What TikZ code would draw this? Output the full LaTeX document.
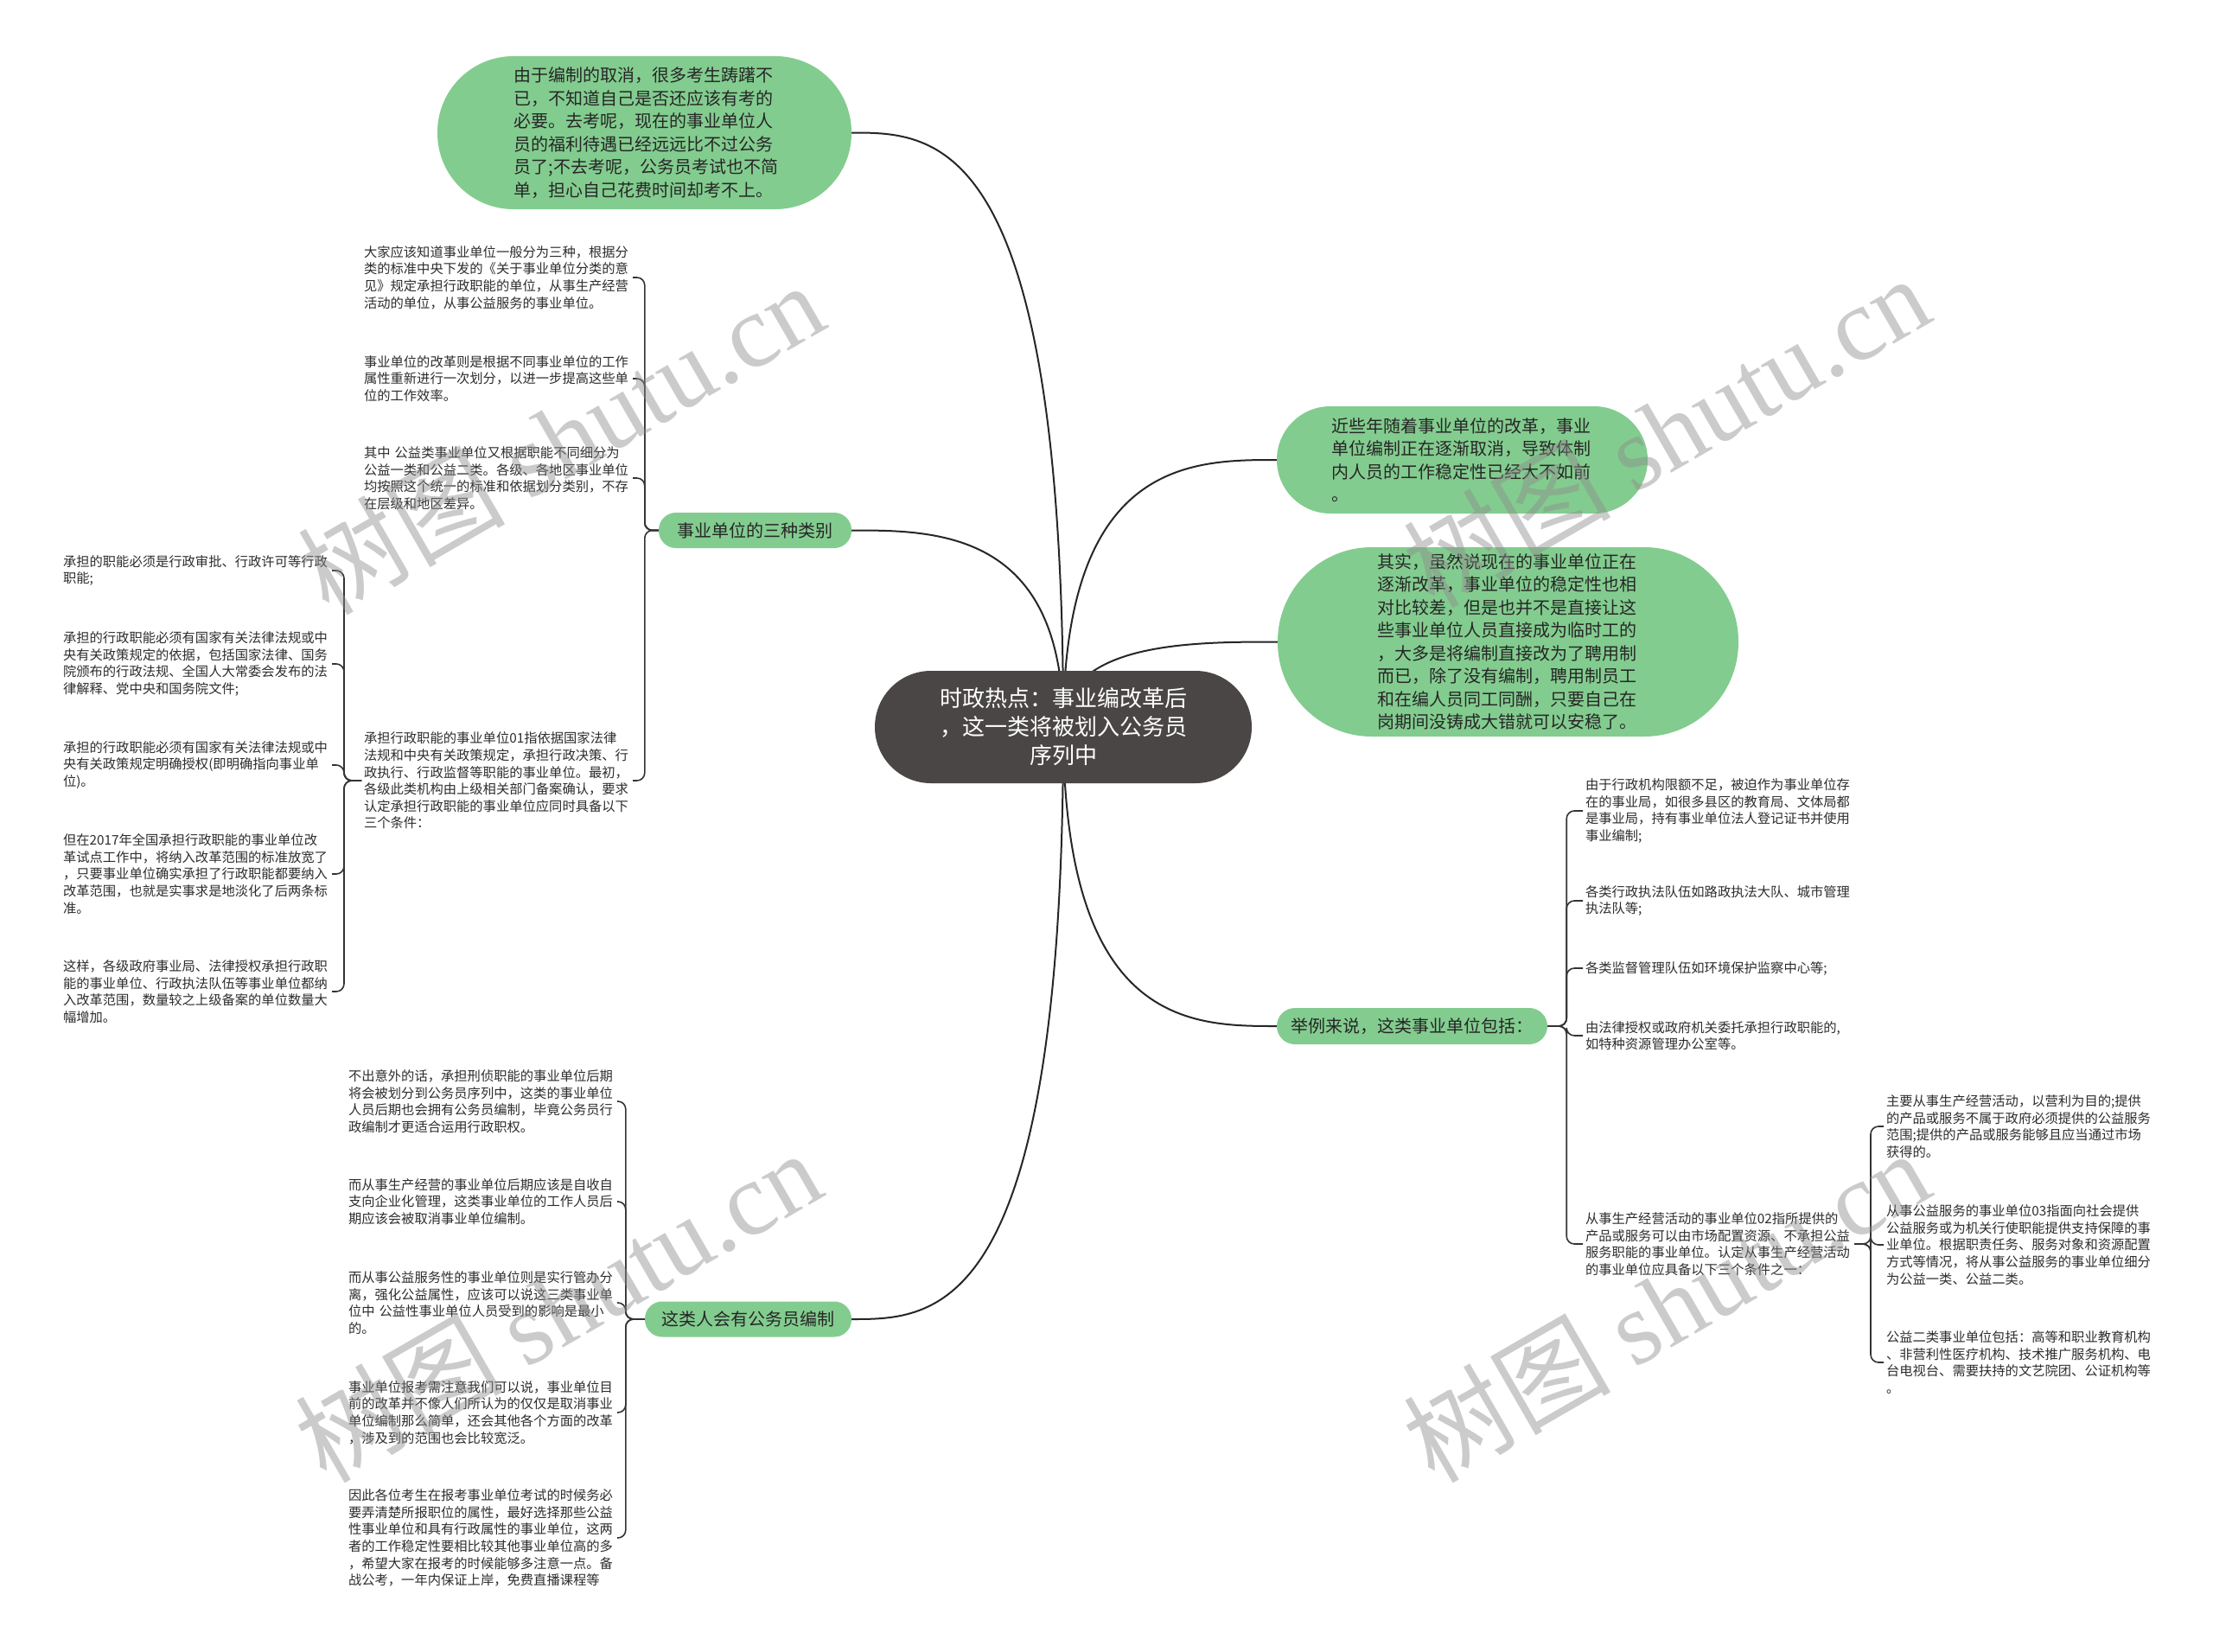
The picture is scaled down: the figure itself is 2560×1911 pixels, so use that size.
\documentclass[tikz,border=0pt]{standalone}
\usepackage{fontspec}
\setmainfont{Noto Sans CJK SC}
\newfontfamily\wmserif{Liberation Serif}
\usetikzlibrary{calc,backgrounds}
\definecolor{bubgreen}{RGB}{131,204,143}
\definecolor{cdark}{RGB}{75,70,70}
\definecolor{txt}{RGB}{45,45,45}
\begin{document}
\begin{tikzpicture}[x=1pt,y=-1pt,
  small/.style={anchor=west, inner sep=0pt, outer sep=3pt, text width=308pt, align=left, font=\fontsize{15.3}{19.6}\selectfont, text=txt},
  bubble/.style={fill=bubgreen, inner sep=0pt, text=black!85, font=\fontsize{20}{26.5}\selectfont},
  conn/.style={draw=black!85, line width=2pt},
  brk/.style={draw=black!80, line width=1.6pt, rounded corners=9pt},
  wmark/.style={rotate=30, text=black!45, text opacity=0.45, font=\fontsize{120}{120}\selectfont, inner sep=0pt}
]
\useasboundingbox (0,0) rectangle (2560,1911);
\begin{scope}[on background layer]
\fill[white] (0,0) rectangle (2560,1911);
\end{scope}

% centre
\node[fill=cdark, minimum width=436pt, minimum height=130pt, rounded corners=65pt, inner sep=0pt, text=white,
  font=\fontsize{26}{33}\selectfont, align=center, text width=300pt] (C) at (1230,841)
  {时政热点：事业编改革后\\，这一类将被划入公务员\\序列中};

% first level
\node[bubble, minimum width=479pt, minimum height=177pt, rounded corners=88pt, text width=302pt, align=left] (T) at (745.5,153.5)
  {由于编制的取消，很多考生踌躇不\\已，不知道自己是否还应该有考的\\必要。去考呢，现在的事业单位人\\员的福利待遇已经远远比不过公务\\员了;不去考呢，公务员考试也不简\\单，担心自己花费时间却考不上。};
\node[bubble, minimum width=223pt, minimum height=41pt, rounded corners=20pt] (L1) at (873.5,613.5) {事业单位的三种类别};
\node[bubble, minimum width=239pt, minimum height=41pt, rounded corners=20pt] (L2) at (865.5,1526) {这类人会有公务员编制};
\node[bubble, minimum width=313pt, minimum height=42pt, rounded corners=21pt] (L3) at (1633.5,1187) {举例来说，这类事业单位包括：};
\node[bubble, minimum width=429pt, minimum height=124pt, rounded corners=62pt, text width=302pt, align=left] (R1) at (1691.5,532)
  {近些年随着事业单位的改革，事业\\单位编制正在逐渐取消，导致体制\\内人员的工作稳定性已经大不如前\\。};
\node[bubble, minimum width=533pt, minimum height=219pt, rounded corners=109pt, text width=302pt, align=left] (R2) at (1744.5,742.5)
  {其实，虽然说现在的事业单位正在\\逐渐改革，事业单位的稳定性也相\\对比较差，但是也并不是直接让这\\些事业单位人员直接成为临时工的\\，大多是将编制直接改为了聘用制\\而已，除了没有编制，聘用制员工\\和在编人员同工同酬，只要自己在\\岗期间没铸成大错就可以安稳了。};

% left group
\node[small] (A) at (418,321) {大家应该知道事业单位一般分为三种，根据分\\类的标准中央下发的《关于事业单位分类的意\\见》规定承担行政职能的单位，从事生产经营\\活动的单位，从事公益服务的事业单位。};
\node[small] (B) at (418,438) {事业单位的改革则是根据不同事业单位的工作\\属性重新进行一次划分，以进一步提高这些单\\位的工作效率。};
\node[small] (Cc) at (418,553) {其中 公益类事业单位又根据职能不同细分为\\公益一类和公益二类。各级、各地区事业单位\\均按照这个统一的标准和依据划分类别，不存\\在层级和地区差异。};
\node[small] (D) at (418,903) {承担行政职能的事业单位01指依据国家法律\\法规和中央有关政策规定，承担行政决策、行\\政执行、行政监督等职能的事业单位。最初，\\各级此类机构由上级相关部门备案确认，要求\\认定承担行政职能的事业单位应同时具备以下\\三个条件：};

\node[small] (E1) at (70,660) {承担的职能必须是行政审批、行政许可等行政\\职能;};
\node[small] (E2) at (70,768) {承担的行政职能必须有国家有关法律法规或中\\央有关政策规定的依据，包括国家法律、国务\\院颁布的行政法规、全国人大常委会发布的法\\律解释、党中央和国务院文件;};
\node[small] (E3) at (70,885) {承担的行政职能必须有国家有关法律法规或中\\央有关政策规定明确授权(即明确指向事业单\\位)。};
\node[small] (E4) at (70,1011) {但在2017年全国承担行政职能的事业单位改\\革试点工作中，将纳入改革范围的标准放宽了\\，只要事业单位确实承担了行政职能都要纳入\\改革范围，也就是实事求是地淡化了后两条标\\准。};
\node[small] (E5) at (70,1147) {这样，各级政府事业局、法律授权承担行政职\\能的事业单位、行政执法队伍等事业单位都纳\\入改革范围，数量较之上级备案的单位数量大\\幅增加。};

\node[small] (F1) at (400,1274) {不出意外的话，承担刑侦职能的事业单位后期\\将会被划分到公务员序列中，这类的事业单位\\人员后期也会拥有公务员编制，毕竟公务员行\\政编制才更适合运用行政职权。};
\node[small] (F2) at (400,1390) {而从事生产经营的事业单位后期应该是自收自\\支向企业化管理，这类事业单位的工作人员后\\期应该会被取消事业单位编制。};
\node[small] (F3) at (400,1507) {而从事公益服务性的事业单位则是实行管办分\\离，强化公益属性，应该可以说这三类事业单\\位中 公益性事业单位人员受到的影响是最小\\的。};
\node[small] (F4) at (400,1634) {事业单位报考需注意我们可以说，事业单位目\\前的改革并不像人们所认为的仅仅是取消事业\\单位编制那么简单，还会其他各个方面的改革\\，涉及到的范围也会比较宽泛。};
\node[small] (F5) at (400,1779) {因此各位考生在报考事业单位考试的时候务必\\要弄清楚所报职位的属性，最好选择那些公益\\性事业单位和具有行政属性的事业单位，这两\\者的工作稳定性要相比较其他事业单位高的多\\，希望大家在报考的时候能够多注意一点。备\\战公考，一年内保证上岸，免费直播课程等};

% right group
\node[small] (G1) at (1831,938) {由于行政机构限额不足，被迫作为事业单位存\\在的事业局，如很多县区的教育局、文体局都\\是事业局，持有事业单位法人登记证书并使用\\事业编制;};
\node[small] (G2) at (1831,1042) {各类行政执法队伍如路政执法大队、城市管理\\执法队等;};
\node[small] (G3) at (1831,1120) {各类监督管理队伍如环境保护监察中心等;};
\node[small] (G4) at (1831,1198) {由法律授权或政府机关委托承担行政职能的,\\如特种资源管理办公室等。};
\node[small] (G5) at (1831,1439) {从事生产经营活动的事业单位02指所提供的\\产品或服务可以由市场配置资源、不承担公益\\服务职能的事业单位。认定从事生产经营活动\\的事业单位应具备以下三个条件之一：};

\node[small] (H1) at (2179,1303) {主要从事生产经营活动，以营利为目的;提供\\的产品或服务不属于政府必须提供的公益服务\\范围;提供的产品或服务能够且应当通过市场\\获得的。};
\node[small] (H2) at (2179,1440) {从事公益服务的事业单位03指面向社会提供\\公益服务或为机关行使职能提供支持保障的事\\业单位。根据职责任务、服务对象和资源配置\\方式等情况，将从事公益服务的事业单位细分\\为公益一类、公益二类。};
\node[small] (H3) at (2179,1576) {公益二类事业单位包括：高等和职业教育机构\\、非营利性医疗机构、技术推广服务机构、电\\台电视台、需要扶持的文艺院团、公证机构等\\。};

% main connectors
\begin{scope}[on background layer]
\foreach \n/\a in {T/east, L1/east, L2/east, R1/west, R2/west, L3/west}{
  \draw[conn] (C.center) .. controls (C.center |- \n.\a) and ($(\n.\a)!0.4!(C.center |- \n.\a)$) .. (\n.\a);
}
\end{scope}

% brackets
\foreach \k in {A,B,Cc,D}{\draw[brk] (L1.west) -- ++(-16,0) |- (\k.east);}
\foreach \k in {E1,E2,E3,E4,E5}{\draw[brk] (D.west) -- ++(-20,0) |- (\k.east);}
\foreach \k in {F1,F2,F3,F4,F5}{\draw[brk] (L2.west) -- ++(-22,0) |- (\k.east);}
\foreach \k in {G1,G2,G3,G4,G5}{\draw[brk] (L3.east) -- ++(22,0) |- (\k.west);}
\foreach \k in {H1,H2,H3}{\draw[brk] (G5.east) -- ++(19,0) |- (\k.west);}

% watermarks
\node[wmark] (W1) at (648,506) {树图 {\wmserif shutu.cn}};
\node[wmark] (W2) at (1927,498) {树图 {\wmserif shutu.cn}};
\node[wmark] (W3) at (645,1510) {树图 {\wmserif shutu.cn}};
\node[wmark] (W4) at (1927,1510) {树图 {\wmserif shutu.cn}};
\end{tikzpicture}
\end{document}
